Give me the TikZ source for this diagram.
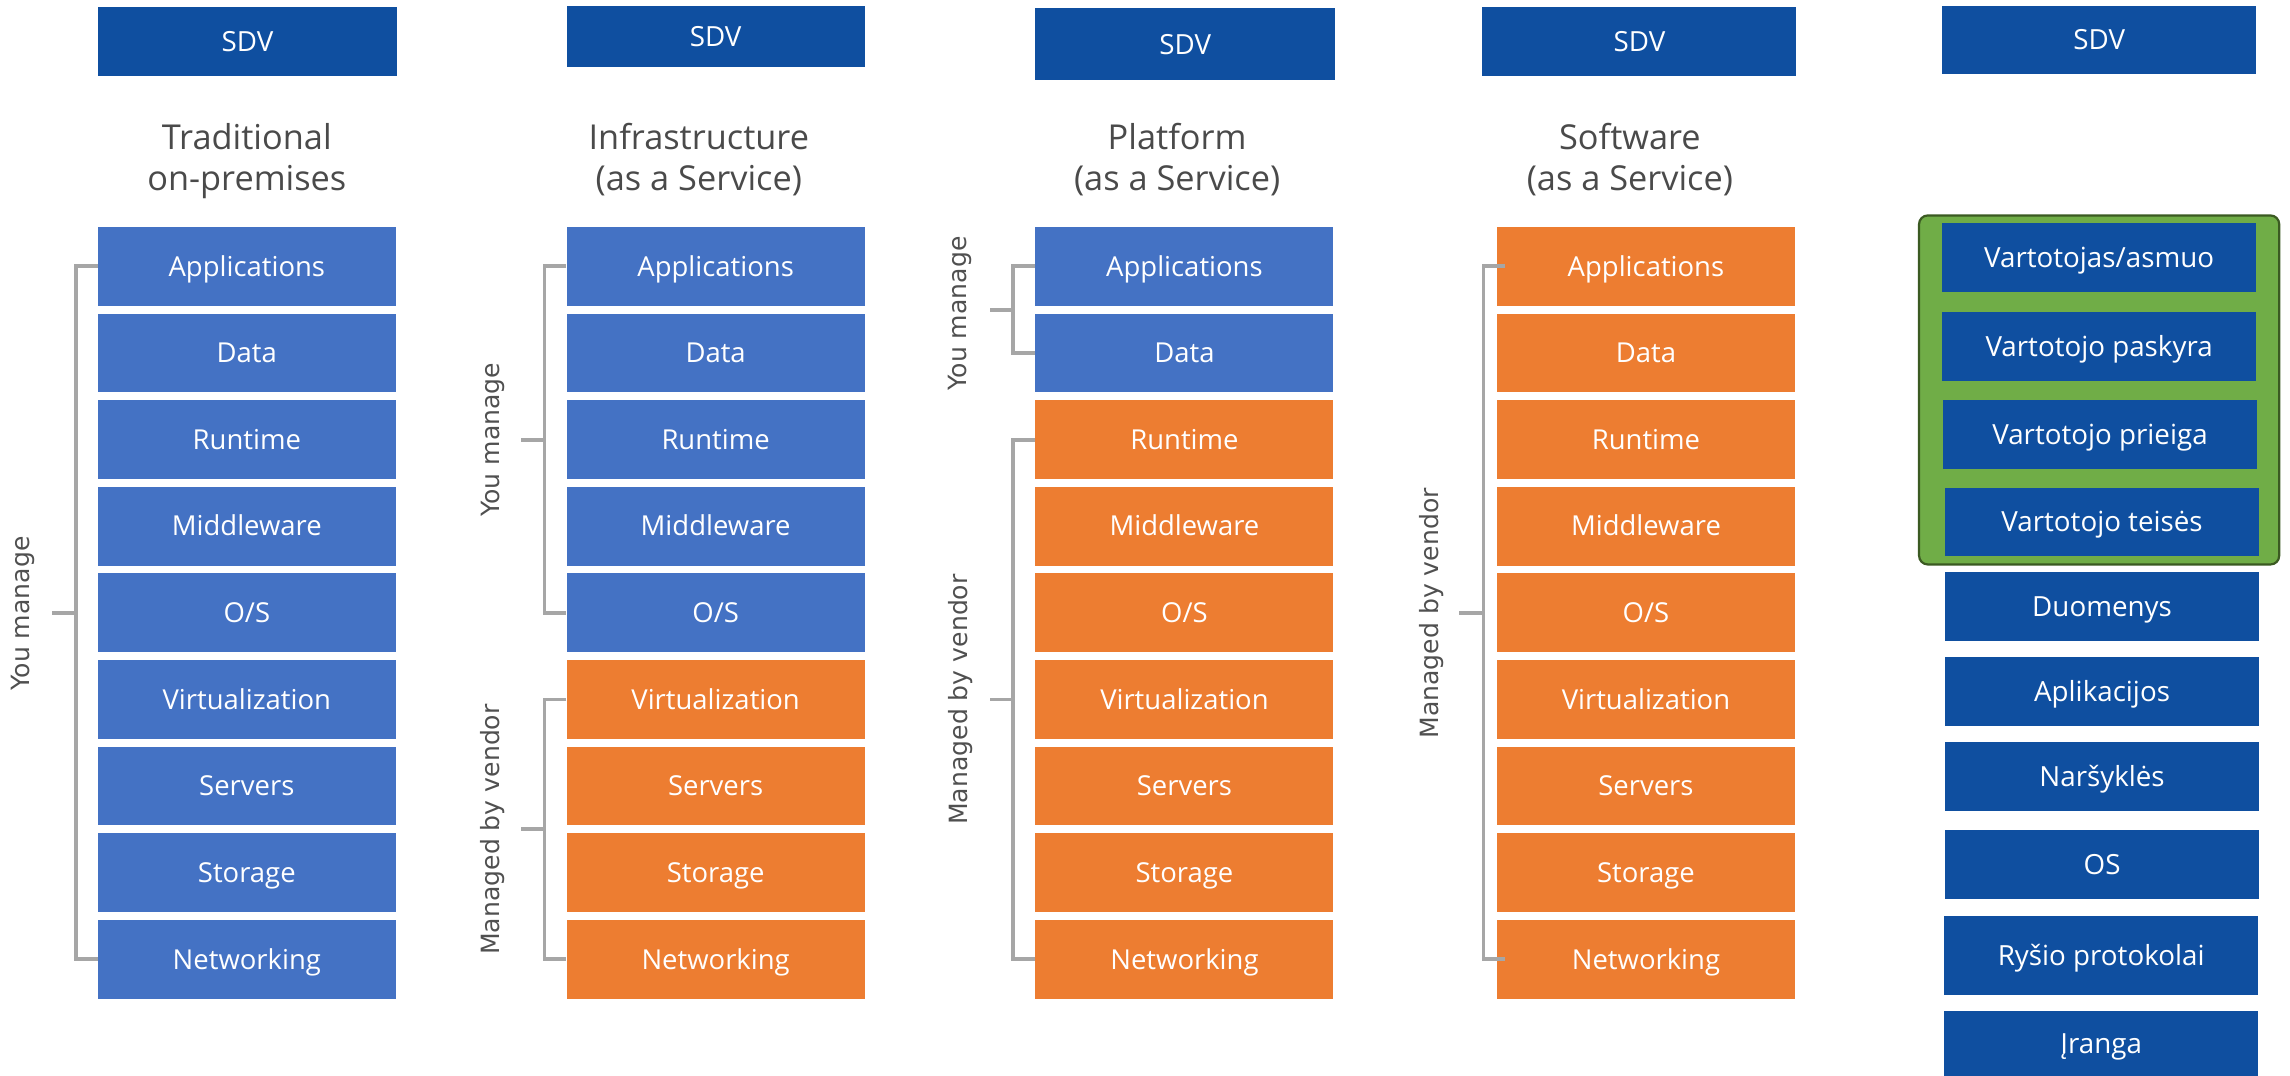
\documentclass[tikz,border=0pt]{standalone}
\usepackage{fontspec}
\setmainfont{Open Sans}
\newfontfamily\osans{Open Sans}
\newfontfamily\dvsans{DejaVu Sans}
\usetikzlibrary{calc}
\definecolor{sdvblue}{HTML}{0F4FA0}
\definecolor{layblue}{HTML}{4472C4}
\definecolor{layorange}{HTML}{ED7D31}
\definecolor{grpgreen}{HTML}{70AD47}
\definecolor{grpborder}{HTML}{3B5A22}
\definecolor{brkgray}{HTML}{A6A6A6}
\definecolor{titlegray}{HTML}{4A4A4A}
\definecolor{labelgray}{HTML}{505050}
\begin{document}
\begin{tikzpicture}[x=1pt,y=-1pt,
  layer/.style={rectangle, inner sep=0pt, minimum width=204pt, minimum height=54pt, text=white,
    font=\osans\fontsize{18.8}{23}\selectfont, text height=13.4pt, text depth=0pt},
  sdv/.style={rectangle, inner sep=0pt, fill=sdvblue, text=white,
    font=\osans\fontsize{19}{23}\selectfont, text height=13.6pt, text depth=0pt},
  ltbox/.style={sdv, minimum width=214.6pt, minimum height=47.2pt},
  group/.style={rectangle, rounded corners=6pt, fill=grpgreen, draw=grpborder, line width=1.5pt, inner sep=0pt},
  ttl/.style={anchor=base, text=titlegray, font=\osans\fontsize{23.5}{28}\selectfont, inner sep=0pt},
  side/.style={rotate=90, text=labelgray, font=\dvsans\fontsize{17.2}{20}\selectfont, inner sep=0pt},
  brk/.style={draw=brkgray, line width=2.6pt},
]
\useasboundingbox (0,0) rectangle (1568,736.7);

% SDV headers
\node[sdv, minimum width=205pt, minimum height=47pt] (s1) at (169.4,28.5) {SDV};
\node[sdv, minimum width=204pt, minimum height=41.6pt] (s2) at (490,24.9) {SDV};
\node[sdv, minimum width=205pt, minimum height=49.5pt] (s3) at (811.5,30.25) {SDV};
\node[sdv, minimum width=215pt, minimum height=47pt] (s4) at (1122.5,28.5) {SDV};
\node[sdv, minimum width=214.6pt, minimum height=46.4pt] (s5) at (1437.3,27.4) {SDV};

% titles
\node[ttl] (t1a) at (169,102.7) {Traditional};
\node[ttl] (t1b) at (169,130.6) {on-premises};
\node[ttl] (t2a) at (478.5,102.7) {Infrastructure};
\node[ttl] (t2b) at (478.5,130.6) {(as a Service)};
\node[ttl] (t3a) at (806,102.7) {Platform};
\node[ttl] (t3b) at (806,130.6) {(as a Service)};
\node[ttl] (t4a) at (1116,102.7) {Software};
\node[ttl] (t4b) at (1116,130.6) {(as a Service)};

% layer stacks
\foreach \col/\cx/\nb in {1/169/9, 2/490/5, 3/811/2, 4/1127/0} {
  \foreach \i/\t in {1/Applications, 2/Data, 3/Runtime, 4/Middleware, 5/{O/S},
                     6/Virtualization, 7/Servers, 8/Storage, 9/Networking} {
    \pgfmathsetmacro\yy{182.4+59.3*(\i-1)}
    \ifnum\i>\nb \def\fc{layorange}\else\def\fc{layblue}\fi
    \node[layer, fill=\fc] (c\col-\i) at (\cx,\yy) {\t};
  }
}

% brackets
\draw[brk] (c1-1.west) -- ++(-15,0) |- (c1-9.west);
\draw[brk] ($(c1-1.west)!0.5!(c1-9.west)+(-15,0)$) -- ++(-16,0);
\draw[brk] (c2-1.west) -- ++(-15,0) |- (c2-5.west);
\draw[brk] ($(c2-1.west)!0.5!(c2-5.west)+(-15,0)$) -- ++(-16,0);
\draw[brk] (c2-6.west) -- ++(-15,0) |- (c2-9.west);
\draw[brk] ($(c2-6.west)!0.5!(c2-9.west)+(-15,0)$) -- ++(-16,0);
\draw[brk] (c3-1.west) -- ++(-15,0) |- (c3-2.west);
\draw[brk] ($(c3-1.west)!0.5!(c3-2.west)+(-15,0)$) -- ++(-16,0);
\draw[brk] (c3-3.west) -- ++(-15,0) |- (c3-9.west);
\draw[brk] ($(c3-3.west)!0.5!(c3-9.west)+(-15,0)$) -- ++(-16,0);
\draw[brk] ([xshift=6pt]c4-1.west) -- ++(-15,0) |- ([xshift=6pt]c4-9.west);
\draw[brk] ($(c4-1.west)!0.5!(c4-9.west)+(-9,0)$) -- ++(-17,0);

% side labels
\node[side] (ym1) at (16,420) {You manage};
\node[side] (ym2) at (337.5,301) {You manage};
\node[side] (mv2) at (337.5,568) {Managed by vendor};
\node[side] (ym3) at (657,214.6) {You manage};
\node[side] (mv3) at (658,479) {Managed by vendor};
\node[side] (mv4) at (980,420) {Managed by vendor};

% right column
\node[group, minimum width=246.6pt, minimum height=239pt] (grp) at (1437.3,267) {};
\node[ltbox] (v1) at (1437.3,176.4) {Vartotojas/asmuo};
\node[ltbox] (v2) at (1437.3,237.4) {Vartotojo paskyra};
\node[ltbox] (v3) at (1437.9,297.7) {Vartotojo prieiga};
\node[ltbox] (v4) at (1439.3,357.4) {Vartotojo teisės};
\node[ltbox] (d1) at (1439.3,415.1) {Duomenys};
\node[ltbox] (d2) at (1439.3,473.5) {Aplikacijos};
\node[ltbox] (d3) at (1439.3,531.5) {Naršyklės};
\node[ltbox] (d4) at (1439.3,592) {OS};
\node[ltbox, minimum height=54pt] (d5) at (1438.7,654) {Ryšio protokolai};
\node[ltbox, minimum height=44.7pt] (d6) at (1438.7,714.35) {Įranga};
\end{tikzpicture}
\end{document}
